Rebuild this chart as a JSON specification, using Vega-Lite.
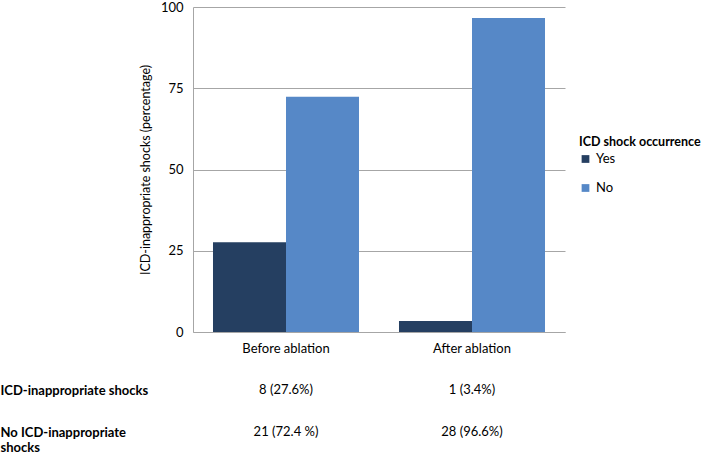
{
  "$schema": "https://vega.github.io/schema/vega-lite/v6.json",
  "config": {
    "view": {"stroke": null},
    "font": "Lato",
    "axis": {"labelFont": "Lato", "titleFont": "Lato", "labelColor": "#000", "titleColor": "#000"},
    "legend": {"labelFont": "Lato", "titleFont": "Lato"}
  },
  "padding": {"left": 0, "top": 1, "right": 5, "bottom": 0},
  "spacing": 8,
  "datasets": {
    "bars": [
      {"period": "Before ablation", "shock": "Yes", "pct": 27.6},
      {"period": "Before ablation", "shock": "No", "pct": 72.4},
      {"period": "After ablation", "shock": "Yes", "pct": 3.4},
      {"period": "After ablation", "shock": "No", "pct": 96.6}
    ],
    "table": [
      {"row": "ICD-inappropriate shocks", "period": "Before ablation", "cell": "8 (27.6%)"},
      {"row": "ICD-inappropriate shocks", "period": "After ablation", "cell": "1 (3.4%)"},
      {"row": "No ICD-inappropriate shocks", "period": "Before ablation", "cell": "21 (72.4 %)"},
      {"row": "No ICD-inappropriate shocks", "period": "After ablation", "cell": "28 (96.6%)"}
    ]
  },
  "vconcat": [
    {
      "width": 372,
      "height": 325,
      "data": {"name": "bars"},
      "mark": {"type": "bar"},
      "encoding": {
        "x": {
          "field": "period", "type": "nominal",
          "sort": ["Before ablation", "After ablation"],
          "scale": {"paddingInner": 0.215, "paddingOuter": 0.1075},
          "axis": {"title": null, "labelAngle": 0, "ticks": false, "domainColor": "#a6a6a6", "labelFontSize": 13, "labelPadding": 10}
        },
        "xOffset": {"field": "shock", "type": "nominal", "sort": ["Yes", "No"], "scale": {"paddingInner": 0, "paddingOuter": 0}},
        "y": {
          "field": "pct", "type": "quantitative",
          "scale": {"domain": [0, 100]},
          "axis": {
            "title": "ICD-inappropriate shocks (percentage)",
            "values": [0, 25, 50, 75, 100],
            "ticks": false, "labelPadding": 10, "labelFontSize": 13,
            "titleFontSize": 12.5, "titleFontWeight": "normal", "titlePadding": 8,
            "gridColor": "#a6a6a6", "domainColor": "#a6a6a6"
          }
        },
        "color": {
          "field": "shock", "type": "nominal", "sort": ["Yes", "No"],
          "scale": {"domain": ["Yes", "No"], "range": ["#253f61", "#5688c7"]},
          "legend": {
            "title": "ICD shock occurrence",
            "orient": "none", "legendX": 386, "legendY": 129,
            "titleFontSize": 12.5, "titleFontWeight": "bold", "labelFontSize": 13,
            "symbolType": "square", "symbolSize": 60, "symbolStrokeWidth": 0,
            "rowPadding": 15, "titlePadding": 4
          }
        }
      }
    },
    {
      "width": 372,
      "height": 84,
      "data": {"name": "table"},
      "mark": {"type": "text", "fontSize": 13, "baseline": "top"},
      "encoding": {
        "x": {
          "field": "period", "type": "nominal",
          "sort": ["Before ablation", "After ablation"],
          "scale": {"paddingInner": 0.215, "paddingOuter": 0.1075},
          "axis": null
        },
        "y": {
          "field": "row", "type": "nominal",
          "sort": ["ICD-inappropriate shocks", "No ICD-inappropriate shocks"],
          "scale": {"type": "point", "padding": 0.5},
          "axis": {
            "title": null, "domain": false, "ticks": false,
            "labelAlign": "left", "labelBaseline": "top", "labelPadding": 193,
            "labelFontWeight": "bold", "labelFontSize": 13, "labelLimit": 0,
            "labelExpr": "datum.label == 'No ICD-inappropriate shocks' ? ['No ICD-inappropriate', 'shocks'] : datum.label"
          }
        },
        "text": {"field": "cell"}
      }
    }
  ]
}
